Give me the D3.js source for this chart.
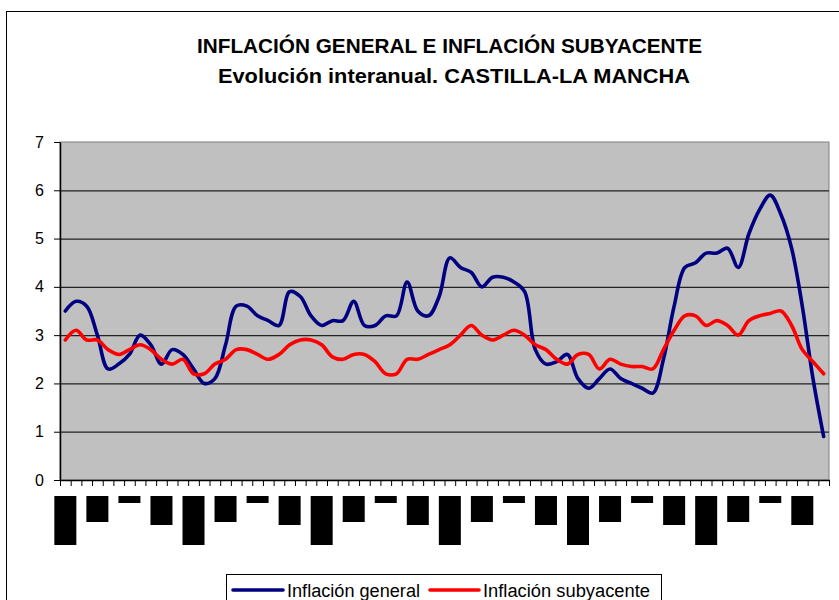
<!DOCTYPE html>
<html>
<head>
<meta charset="utf-8">
<script src="https://cdn.jsdelivr.net/npm/d3@7"></script>
<style>
  body { margin: 0; background: #fff; }
  text { font-family: "Liberation Sans", Arial, sans-serif; }
</style>
</head>
<body>
<div class="chart"></div>
<script>
// Chart data (monthly, ene-03 .. dic-08)
var monthNames = ["ene", "feb", "mar", "abr", "may", "jun", "jul", "ago", "sep", "oct", "nov", "dic"];
var years = ["03", "04", "05", "06", "07", "08"];
var months = [];
years.forEach(function (yy) {
  monthNames.forEach(function (m) { months.push(m + "-" + yy); });
});

var inflacionGeneral = [
  3.5, 3.7, 3.6, 3.0, 2.3, 2.4, 2.6, 3.0, 2.8, 2.4, 2.7, 2.6,
  2.3, 2.0, 2.1, 2.8, 3.6, 3.6, 3.4, 3.3, 3.2, 3.9, 3.8, 3.4,
  3.2, 3.3, 3.3, 3.7, 3.2, 3.2, 3.4, 3.4, 4.1, 3.5, 3.4, 3.8,
  4.6, 4.4, 4.3, 4.0, 4.2, 4.2, 4.1, 3.9, 2.7, 2.4, 2.45, 2.6,
  2.1, 1.9, 2.1, 2.3, 2.1, 2.0, 1.9, 1.8, 2.5, 3.6, 4.4, 4.5,
  4.7, 4.7, 4.8, 4.4, 5.1, 5.6, 5.9, 5.5, 4.8, 3.6, 2.1, 0.9
];

var inflacionSubyacente = [
  2.9, 3.1, 2.9, 2.9, 2.7, 2.6, 2.7, 2.8, 2.7, 2.5, 2.4, 2.5,
  2.2, 2.2, 2.4, 2.5, 2.7, 2.7, 2.6, 2.5, 2.6, 2.8, 2.9, 2.9,
  2.8, 2.55, 2.5, 2.6, 2.6, 2.45, 2.2, 2.2, 2.5, 2.5, 2.6, 2.7,
  2.8, 3.0, 3.2, 3.0, 2.9, 3.0, 3.1, 3.0, 2.8, 2.7, 2.5, 2.4,
  2.6, 2.6, 2.3, 2.5, 2.4, 2.35, 2.35, 2.3, 2.7, 3.1, 3.4, 3.4,
  3.2, 3.3, 3.2, 3.0, 3.3, 3.4, 3.45, 3.5, 3.2, 2.7, 2.45, 2.2
];

// one category label every three months
var xLabels = months.filter(function (d, i) { return i % 3 === 0; });
var yTicks = [0, 1, 2, 3, 4, 5, 6, 7];
var titleLines = ["INFLACIÓN GENERAL E INFLACIÓN SUBYACENTE", "Evolución interanual. CASTILLA-LA MANCHA"];
var seriesNames = ["Inflación general", "Inflación subyacente"];

// Set SVG dimensions
var svgWidth = 839;
var svgHeight = 600;
var plot = { left: 60, right: 829, top: 142, bottom: 480 };

var svg = d3.select(".chart")
  .append("svg")
  .attr("width", svgWidth)
  .attr("height", svgHeight);

// outer chart border (cut off at right and bottom)
svg.append("rect")
  .attr("x", 6.5).attr("y", 11.5)
  .attr("width", 900).attr("height", 700)
  .attr("fill", "#fff")
  .attr("stroke", "#000");

// Titles
var titleWidths = [505, 472];
var titleCenters = [449.5, 454];
titleLines.forEach(function (t, i) {
  svg.append("text")
    .attr("x", titleCenters[i])
    .attr("y", 53 + i * 30)
    .attr("text-anchor", "middle")
    .attr("font-size", "21px")
    .attr("font-weight", "bold")
    .attr("textLength", titleWidths[i])
    .attr("lengthAdjust", "spacingAndGlyphs")
    .text(t);
});

// Scales
var x = d3.scaleBand().domain(months).range([plot.left, plot.right]);
var xIdx = d3.scaleLinear().domain([0, months.length]).range([plot.left, plot.right]);
var y = d3.scaleLinear().domain([0, 7]).range([plot.bottom, plot.top]);
var cx = function (d) { return x(d) + x.bandwidth() / 2; };

// Plot area
svg.append("rect")
  .attr("x", plot.left).attr("y", plot.top)
  .attr("width", plot.right - plot.left)
  .attr("height", plot.bottom - plot.top)
  .attr("fill", "#c0c0c0")
  .attr("stroke", "#808080");

// Gridlines
var grid = svg.append("g")
  .attr("transform", `translate(${plot.left}, 0)`)
  .call(d3.axisLeft(y).tickValues(yTicks.slice(1, 7)).tickSize(-(plot.right - plot.left)).tickFormat(""));
grid.select(".domain").remove();
grid.selectAll("line").attr("stroke", "#222").attr("stroke-width", 1.2);

// Y axis
var yAxis = svg.append("g")
  .attr("transform", `translate(${plot.left}, 0)`)
  .call(d3.axisLeft(y).tickValues(yTicks).tickFormat(d3.format("d")).tickSize(6).tickSizeOuter(0).tickPadding(10));
yAxis.select(".domain").attr("stroke", "#000").attr("stroke-width", 1.5);
yAxis.selectAll("line").attr("stroke", "#000");
yAxis.selectAll("text")
  .attr("font-size", "16px")
  .attr("font-family", "Liberation Sans, Arial, sans-serif")
  .attr("fill", "#000");

// X axis (ticks between months)
var xAxis = svg.append("g")
  .attr("transform", `translate(0, ${plot.bottom})`)
  .call(d3.axisBottom(xIdx).tickValues(d3.range(months.length + 1)).tickSize(6).tickSizeOuter(0).tickFormat(""));
xAxis.select(".domain").attr("stroke", "#000").attr("stroke-width", 1.5);
xAxis.selectAll("line").attr("stroke", "#000");

// Category labels render as solid blocks in the original
var blockHeight = { ene: 49, abr: 26, jul: 7, oct: 29 };
svg.append("g").selectAll("rect")
  .data(xLabels)
  .enter()
  .append("rect")
  .attr("x", d => cx(d) - 11)
  .attr("y", 496)
  .attr("width", 22)
  .attr("height", d => blockHeight[d.slice(0, 3)])
  .attr("fill", "#000");

// Lines
var lineGen = d3.line()
  .x(d => cx(d.m))
  .y(d => y(d.v))
  .curve(d3.curveCatmullRom.alpha(0.5));

var series = [
  { name: seriesNames[0], values: inflacionGeneral, color: "#000080" },
  { name: seriesNames[1], values: inflacionSubyacente, color: "#ff0000" }
];

series.forEach(function (s) {
  svg.append("path")
    .datum(s.values.map(function (v, i) { return { m: months[i], v: v }; }))
    .attr("fill", "none")
    .attr("stroke", s.color)
    .attr("stroke-width", 3.6)
    .attr("stroke-linejoin", "round")
    .attr("stroke-linecap", "round")
    .attr("d", lineGen);
});

// Legend
var legend = svg.append("g");
legend.append("rect")
  .attr("x", 226.5).attr("y", 574.5)
  .attr("width", 435).attr("height", 40)
  .attr("fill", "#fff")
  .attr("stroke", "#000");

var legendPos = [{ x1: 233, x2: 283, tx: 287, w: 133 }, { x1: 430, x2: 479, tx: 483, w: 167 }];
series.forEach(function (s, i) {
  var p = legendPos[i];
  legend.append("line")
    .attr("x1", p.x1).attr("x2", p.x2)
    .attr("y1", 590).attr("y2", 590)
    .attr("stroke", s.color)
    .attr("stroke-width", 3.6)
    .attr("stroke-linecap", "round");
  legend.append("text")
    .attr("x", p.tx)
    .attr("y", 597)
    .attr("font-size", "18px")
    .attr("textLength", p.w)
    .attr("lengthAdjust", "spacingAndGlyphs")
    .text(s.name);
});
</script>
</body>
</html>
